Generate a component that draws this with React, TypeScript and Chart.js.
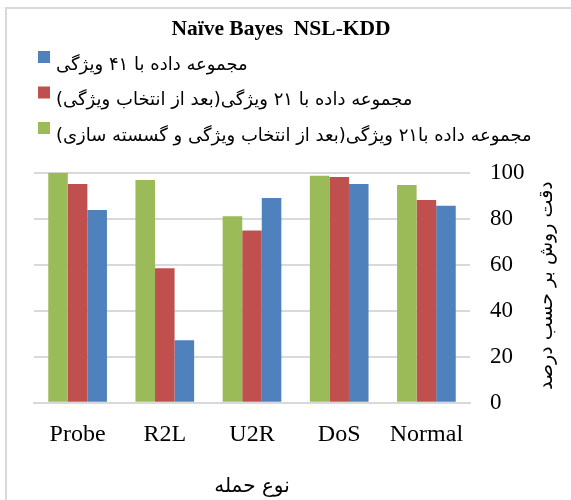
import React, { useEffect, useRef } from 'react';
import { Chart, registerables } from 'chart.js';

Chart.register(...registerables);

const chartTitle = 'Naïve Bayes  NSL-KDD';
const categories = ['Probe', 'R2L', 'U2R', 'DoS', 'Normal'];
const seriesLabels = [
  'مجموعه داده با۲۱ ویژگی(بعد از انتخاب ویژگی و گسسته سازی)',
  'مجموعه داده با ۲۱ ویژگی(بعد از انتخاب ویژگی)',
  'مجموعه داده با ۴۱ ویژگی',
];
const greenValues = [100, 96.8, 81.1, 98.7, 94.6];
const redValues = [95.1, 58.5, 74.9, 98.1, 88.1];
const blueValues = [83.8, 27.1, 89.0, 95.1, 85.6];
const seriesColors = ['#9BBB59', '#C0504D', '#4F81BD'];
const yTickMin = 0;
const yTickMax = 100;
const yTickStep = 20;
const xAxisTitle = 'نوع حمله';
const yAxisTitle = 'دقت روش بر حسب درصد';

const PERSIAN_FONT = "'DejaVu Sans', sans-serif";
const LATIN_FONT = "'Liberation Serif', 'Times New Roman', serif";

const decorPlugin = {
  id: 'decor',
  beforeDraw(chart: any) {
    const ctx = chart.ctx;
    ctx.save();
    ctx.fillStyle = '#ffffff';
    ctx.fillRect(0, 0, chart.width, chart.height);
    ctx.restore();
  },
  afterDraw(chart: any) {
    const ctx = chart.ctx;
    ctx.save();
    // outer frame (top and left edges visible)
    ctx.strokeStyle = '#d9d9d9';
    ctx.lineWidth = 2;
    ctx.beginPath();
    ctx.moveTo(6, chart.height);
    ctx.lineTo(6, 8);
    ctx.lineTo(chart.width, 8);
    ctx.stroke();

    // title
    ctx.fillStyle = '#000000';
    ctx.font = `bold 21.5px ${LATIN_FONT}`;
    ctx.textAlign = 'center';
    ctx.textBaseline = 'alphabetic';
    ctx.fillText(chartTitle, 281, 34.5);

    // legend (reverse order, one per row)
    const items = chart.data.datasets
      .map((d: any) => ({ label: d.label, color: d.backgroundColor }))
      .reverse();
    items.forEach((it: any, i: number) => {
      const top = 51 + i * 35.5;
      ctx.fillStyle = it.color;
      ctx.fillRect(38, top, 12, 12);
      ctx.fillStyle = '#000000';
      ctx.font = `18px ${PERSIAN_FONT}`;
      ctx.direction = 'rtl';
      ctx.textAlign = 'left';
      ctx.textBaseline = 'middle';
      ctx.fillText(it.label, 56, top + 14);
    });

    // y axis title (rotated, reading bottom to top)
    const area = chart.chartArea;
    ctx.translate(547, (area.top + area.bottom) / 2 - 2);
    ctx.rotate(-Math.PI / 2);
    ctx.font = `19px ${PERSIAN_FONT}`;
    ctx.direction = 'rtl';
    ctx.textAlign = 'center';
    ctx.textBaseline = 'middle';
    ctx.fillStyle = '#000000';
    ctx.fillText(yAxisTitle, 0, 0);
    ctx.restore();
  },
};

export default function App() {
  const canvasRef = useRef<HTMLCanvasElement | null>(null);

  useEffect(() => {
    if (!canvasRef.current) return;
    const seriesValues = [greenValues, redValues, blueValues];
    const chart = new Chart(canvasRef.current, {
      type: 'bar',
      data: {
        labels: categories,
        datasets: seriesValues.map((vals, i) => ({
          label: seriesLabels[i],
          data: vals,
          backgroundColor: seriesColors[i],
          borderWidth: 0,
          barPercentage: 1,
          categoryPercentage: 0.673,
        })),
      },
      options: {
        animation: false,
        responsive: false,
        devicePixelRatio: 1,
        layout: {
          padding: { top: 172.7, left: 34, right: 45, bottom: 0 },
        },
        plugins: {
          legend: { display: false },
          title: { display: false },
          tooltip: { enabled: false },
        },
        scales: {
          x: {
            position: 'bottom',
            grid: { display: false, drawTicks: false },
            border: { display: true, color: '#d9d9d9', width: 2 },
            ticks: {
              color: '#000000',
              padding: 18,
              font: { family: LATIN_FONT, size: 24 },
            },
            title: {
              display: true,
              text: xAxisTitle,
              color: '#000000',
              font: { family: PERSIAN_FONT, size: 20 },
              padding: { top: 0, bottom: 1.5 },
            },
            afterFit(scale: any) {
              scale.height = 97.3;
            },
          },
          y: {
            position: 'right',
            min: yTickMin,
            max: yTickMax,
            grid: { color: '#d9d9d9', lineWidth: 2, drawTicks: false },
            border: { display: false },
            ticks: {
              stepSize: yTickStep,
              color: '#000000',
              padding: 20,
              font: { family: LATIN_FONT, size: 23 },
            },
            afterFit(scale: any) {
              scale.width = 56;
            },
          },
        },
      },
      plugins: [decorPlugin],
    });
    return () => chart.destroy();
  }, []);

  return (
    <div style={{ position: 'fixed', left: 0, top: 0, width: 571, height: 500, background: '#fff' }}>
      <canvas ref={canvasRef} width={571} height={500} style={{ display: 'block' }} />
    </div>
  );
}
